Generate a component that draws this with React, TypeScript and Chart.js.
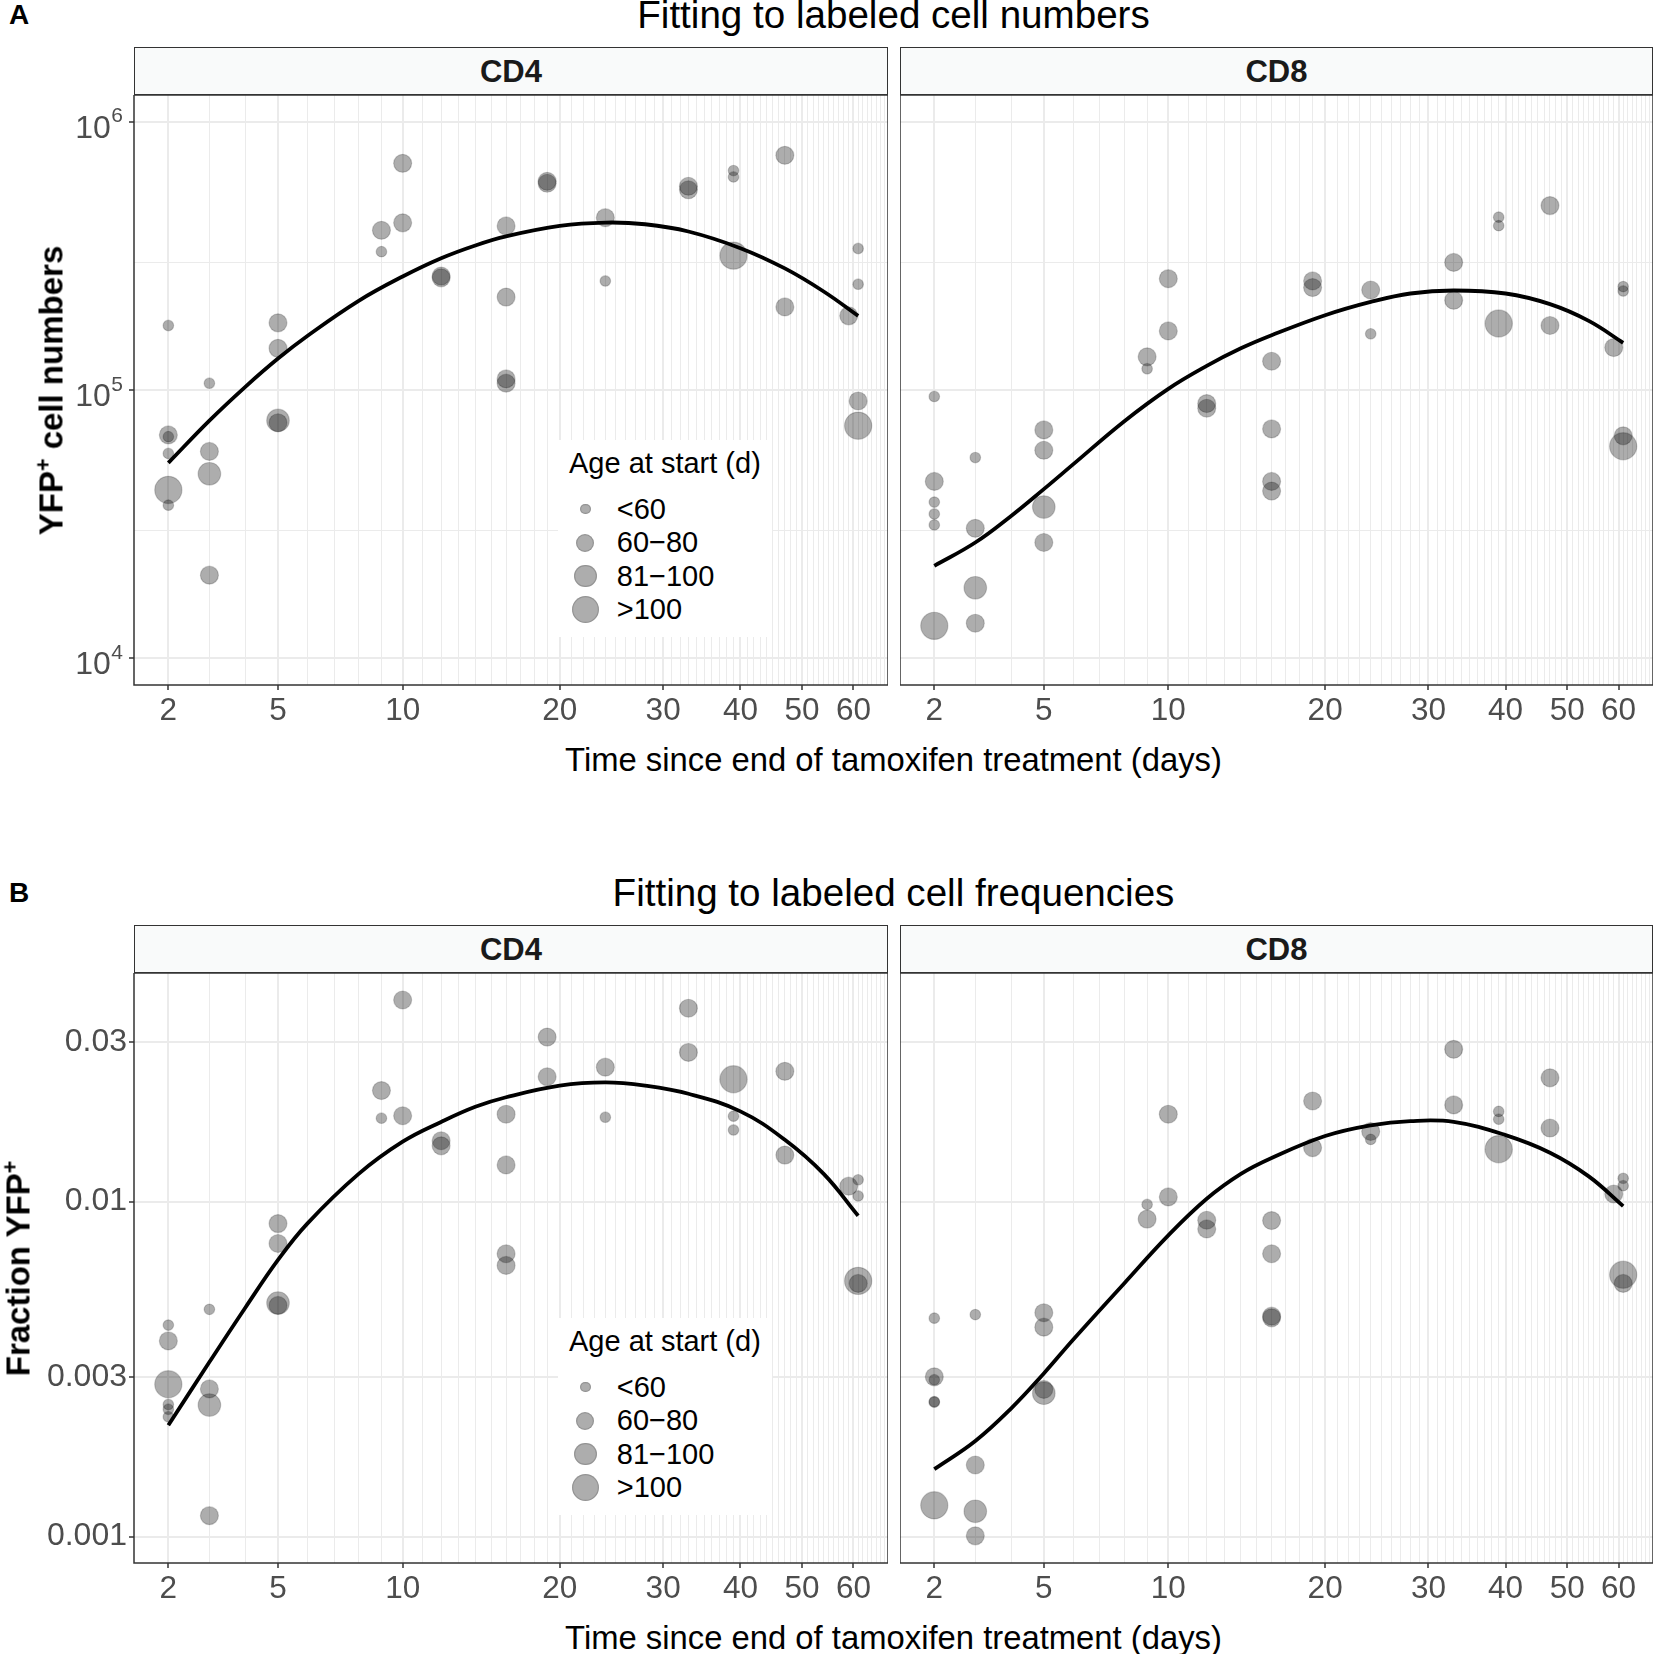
import React, { useEffect, useRef } from 'react';
import { Chart, registerables, LinearScale } from 'chart.js';

// x axis of the figure is log10(day + 5)
const SHIFT = 5;
const fwd = (v: number) => Math.log10(v + SHIFT);
const inv = (u: number) => Math.pow(10, u) - SHIFT;

class ShiftedLogScale extends LinearScale {
  static id = 'shiftedLog';
  static defaults = LinearScale.defaults;
  getPixelForValue(value: number) {
    const a = fwd(this.min);
    const b = fwd(this.max);
    return this.getPixelForDecimal((fwd(value) - a) / (b - a));
  }
  getValueForPixel(pixel: number) {
    const a = fwd(this.min);
    const b = fwd(this.max);
    return inv(a + this.getDecimalForPixel(pixel) * (b - a));
  }
}

Chart.register(...registerables, ShiftedLogScale);

// ---- data ----
const AGE_GROUPS = ['<60', '60\u221280', '81\u2212100', '>100'];

const DAYS = [2, 2, 2, 2, 2, 2, 3, 3, 3, 3, 5, 5, 5, 5, 9, 9, 10, 10, 12, 12, 16, 16, 16, 16, 19, 19, 24, 24, 33, 33, 39, 39, 39, 47, 47, 59, 61, 61, 61, 61];

const cd4Cells = [174000, 68000, 67000, 58000, 42400, 37200, 106000, 59000, 48700, 20400, 178000, 143000, 77000, 75500, 394000, 328000, 700000, 420000, 266000, 262000, 409000, 222000, 110000, 106000, 600000, 590000, 439000, 255000, 575000, 558000, 658000, 623000, 317000, 750000, 204000, 189000, 337000, 248000, 91000, 73600];
const cd4CellsAge = [0, 1, 0, 0, 3, 0, 0, 1, 2, 1, 1, 1, 2, 1, 1, 0, 1, 1, 1, 1, 1, 1, 1, 1, 1, 1, 1, 0, 1, 1, 0, 0, 3, 1, 1, 1, 0, 0, 1, 3];

const cd8Cells = [94600, 45600, 38200, 34500, 31400, 13200, 56000, 30500, 18300, 13500, 71000, 59600, 36600, 27000, 133000, 120000, 260000, 166000, 89000, 85500, 128000, 71600, 45600, 42000, 255000, 241000, 236000, 162000, 299000, 216000, 441000, 410000, 177000, 487000, 174000, 144000, 243000, 234000, 67500, 61700];
const cd8CellsAge = [0, 1, 0, 0, 0, 3, 0, 1, 2, 1, 1, 1, 2, 1, 1, 0, 1, 1, 1, 1, 1, 1, 1, 1, 1, 1, 1, 0, 1, 1, 0, 0, 3, 1, 1, 1, 0, 0, 1, 3];

const cd4Freq = [0.00428, 0.00384, 0.00285, 0.00248, 0.0024, 0.00228, 0.00477, 0.00276, 0.00247, 0.001155, 0.0086, 0.0075, 0.00498, 0.0049, 0.02146, 0.01775, 0.04, 0.01805, 0.0152, 0.01468, 0.01824, 0.01287, 0.00699, 0.00645, 0.031, 0.0236, 0.0252, 0.01787, 0.0378, 0.0279, 0.0232, 0.018, 0.01637, 0.0245, 0.01377, 0.01112, 0.01162, 0.0104, 0.0058, 0.0057];
const cd4FreqAge = [0, 1, 3, 0, 0, 0, 0, 1, 2, 1, 1, 1, 2, 1, 1, 0, 1, 1, 1, 1, 1, 1, 1, 1, 1, 1, 1, 0, 1, 1, 3, 0, 0, 1, 1, 1, 0, 0, 3, 1];

const cd8Freq = [0.00449, 0.003, 0.00294, 0.00253, 0.00252, 0.00124, 0.0046, 0.001636, 0.00119, 0.001005, 0.00466, 0.00422, 0.00275, 0.00268, 0.00981, 0.00887, 0.01824, 0.01033, 0.0088, 0.00829, 0.00878, 0.00699, 0.00455, 0.0045, 0.01998, 0.01449, 0.0162, 0.01534, 0.0285, 0.01945, 0.0186, 0.01763, 0.01434, 0.02343, 0.01659, 0.01054, 0.01174, 0.01116, 0.00605, 0.0057];
const cd8FreqAge = [0, 1, 0, 0, 0, 3, 0, 1, 2, 1, 1, 1, 1, 2, 0, 1, 1, 1, 1, 1, 1, 1, 1, 1, 1, 1, 1, 0, 1, 1, 0, 0, 3, 1, 1, 1, 0, 0, 3, 1];

// fitted curves
const FIT_DAYS = [2, 3, 4, 5, 6, 8, 10, 12, 14, 16, 20, 24, 28, 33, 40, 47, 54, 61];
const cd4CellsFit = [53500, 76900, 103000, 131000, 159000, 215000, 265000, 310000, 346000, 374000, 409000, 421000, 415000, 390000, 338000, 284000, 233000, 189000];
const cd8CellsFit = [22100, 27000, 34000, 42700, 52800, 76500, 101000, 123000, 143000, 160000, 190000, 213000, 229000, 235000, 229000, 209000, 181000, 150000];
const cd4FreqFit = [0.00215, 0.00332, 0.00484, 0.0067, 0.0086, 0.0121, 0.0151, 0.0173, 0.0192, 0.0205, 0.0222, 0.0227, 0.0222, 0.021, 0.0186, 0.0153, 0.0121, 0.00908];
const cd8FreqFit = [0.00159, 0.00193, 0.00242, 0.00307, 0.00387, 0.00571, 0.00793, 0.0102, 0.0121, 0.0135, 0.0157, 0.0169, 0.0174, 0.0173, 0.0158, 0.014, 0.0119, 0.0097];

// axes
const X_LABELED = [2, 5, 10, 20, 30, 40, 50, 60];
const X_MIN = 1.26;
const X_MAX = 67.73;
const X_GRID = Array.from({ length: 66 }, (_, i) => i + 2);

const CELLS_TICKS = [1e4, 3e4, 1e5, 3e5, 1e6];
const CELLS_EXP = ['4', '', '5', '', '6'];
const CELLS_MIN = Math.pow(10, 3.9);
const CELLS_MAX = Math.pow(10, 6.1);

const FREQ_TICKS = [0.001, 0.003, 0.01, 0.03];
const FREQ_LABELS = ['0.001', '0.003', '0.01', '0.03'];
const FREQ_MIN = 0.000834;
const FREQ_MAX = 0.04816;

// ---- layout ----
const FONT = '"Liberation Sans", Arial, Helvetica, sans-serif';
const RADII = [5.3, 9, 11.3, 13.6];
const PT_FILL = 'rgba(0,0,0,0.32)';
const PT_EDGE = 'rgba(0,0,0,0.18)';
const GRID = '#EBEBEB';
const TICK_TEXT = '#4D4D4D';
const AXIS_H = 50;
const PLOT_H = 590;
const STRIP_H = 48;
const A_TOP = 95;
const B_TOP = 973;
const CD4_LEFT = 134;
const CD4_W = 754;
const CD8_LEFT = 900;
const CD8_W = 753;

const panelBorder = {
  id: 'panelBorder',
  afterDraw(chart: any) {
    const { ctx, chartArea: a } = chart;
    ctx.save();
    ctx.strokeStyle = '#333333';
    ctx.lineWidth = 1.5;
    ctx.strokeRect(a.left, a.top, a.right - a.left, a.bottom - a.top);
    ctx.restore();
  }
};

// 10^n tick labels with a raised exponent
const powerLabels = {
  id: 'powerLabels',
  afterDraw(chart: any, _args: any, opts: any) {
    if (!opts || !opts.exps) return;
    const { ctx, chartArea } = chart;
    const y = chart.scales.y;
    ctx.save();
    ctx.fillStyle = TICK_TEXT;
    ctx.textAlign = 'right';
    ctx.textBaseline = 'alphabetic';
    opts.values.forEach((v: number, i: number) => {
      const exp = opts.exps[i];
      if (!exp) return;
      const py = y.getPixelForValue(v);
      const xr = chartArea.left - 11;
      ctx.font = `21px ${FONT}`;
      const we = ctx.measureText(exp).width;
      ctx.fillText(exp, xr, py + 0.5);
      ctx.font = `32px ${FONT}`;
      ctx.fillText('10', xr - we - 0.5, py + 16);
    });
    ctx.restore();
  }
};

interface PanelProps {
  left: number;
  top: number;
  width: number;
  axisW: number;
  values: number[];
  ages: number[];
  fit: number[];
  yMin: number;
  yMax: number;
  yTicks: number[];
  yLabels?: string[];
  yExps?: string[];
}

function Panel(p: PanelProps) {
  const ref = useRef<HTMLCanvasElement>(null);
  const cw = p.axisW + p.width;
  const ch = PLOT_H + AXIS_H;

  useEffect(() => {
    if (!ref.current) return;
    const showY = p.axisW > 0;
    const isMajorY = (i: number) => !!((p.yLabels && p.yLabels[i]) || (p.yExps && p.yExps[i]));
    const chart = new Chart(ref.current, {
      type: 'scatter',
      data: {
        datasets: [
          {
            type: 'line',
            data: FIT_DAYS.map((d, i) => ({ x: d, y: p.fit[i] })),
            borderColor: '#000000',
            borderWidth: 3.8,
            pointRadius: 0,
            tension: 0.4,
            fill: false,
            order: 0
          },
          {
            type: 'scatter',
            data: DAYS.map((d, i) => ({ x: d, y: p.values[i] })),
            pointRadius: p.ages.map((a) => RADII[a]),
            backgroundColor: PT_FILL,
            borderColor: PT_EDGE,
            borderWidth: 1.2,
            order: 1
          }
        ]
      },
      options: {
        animation: false,
        responsive: false,
        events: [],
        layout: { padding: 0, autoPadding: false },
        plugins: {
          legend: { display: false },
          tooltip: { enabled: false },
          powerLabels: showY && p.yExps ? { values: p.yTicks, exps: p.yExps } : false
        },
        scales: {
          x: {
            type: 'shiftedLog' as any,
            min: X_MIN,
            max: X_MAX,
            bounds: 'data',
            afterBuildTicks: (s: any) => {
              s.ticks = X_GRID.map((v) => ({ value: v }));
            },
            afterFit: (s: any) => {
              s.height = AXIS_H;
              s.paddingLeft = 0;
              s.paddingRight = 0;
            },
            border: { display: false },
            grid: {
              color: GRID,
              lineWidth: (c: any) => (X_LABELED.includes(c.tick?.value) ? 2 : 1),
              tickColor: (c: any) => (X_LABELED.includes(c.tick?.value) ? '#333333' : 'rgba(0,0,0,0)'),
              tickWidth: 1.5,
              tickLength: 5
            },
            ticks: {
              autoSkip: false,
              maxRotation: 0,
              minRotation: 0,
              padding: 2,
              color: TICK_TEXT,
              font: { family: FONT, size: 31.5 },
              callback: (v: any) => (X_LABELED.includes(v) ? String(v) : '')
            }
          },
          y: {
            type: 'logarithmic',
            min: p.yMin,
            max: p.yMax,
            bounds: 'data',
            afterBuildTicks: (s: any) => {
              s.ticks = p.yTicks.map((v) => ({ value: v }));
            },
            afterFit: (s: any) => {
              s.width = p.axisW;
              s.paddingTop = 0;
              s.paddingBottom = 0;
            },
            border: { display: false },
            grid: {
              color: GRID,
              lineWidth: (c: any) => (isMajorY(c.index) ? 2 : 1),
              tickColor: (c: any) => (isMajorY(c.index) ? '#333333' : 'rgba(0,0,0,0)'),
              tickWidth: 1.5,
              tickLength: 5,
              drawTicks: showY
            },
            ticks: {
              display: showY && !!p.yLabels,
              autoSkip: false,
              padding: 2,
              color: TICK_TEXT,
              font: { family: FONT, size: 32 },
              callback: (_v: any, i: number) => (p.yLabels ? p.yLabels[i] : '')
            }
          }
        }
      },
      plugins: [panelBorder, powerLabels]
    } as any);
    return () => chart.destroy();
  }, []);

  return (
    <canvas
      ref={ref}
      width={cw}
      height={ch}
      style={{ position: 'absolute', left: p.left - p.axisW, top: p.top, width: cw, height: ch }}
    />
  );
}

function Strip({ left, top, width, label }: { left: number; top: number; width: number; label: string }) {
  return (
    <div
      style={{
        position: 'absolute',
        left,
        top,
        width,
        height: STRIP_H,
        boxSizing: 'border-box',
        border: '1.5px solid #333333',
        background: '#F9FAFA'
      }}
    >
      <div
        style={{
          position: 'absolute',
          left: 0,
          right: 0,
          top: 7.9,
          textAlign: 'center',
          fontWeight: 'bold',
          fontSize: 31,
          lineHeight: 1,
          color: '#1A1A1A'
        }}
      >
        {label}
      </div>
    </div>
  );
}

function AgeLegend({ top }: { top: number }) {
  const rows = [69, 102.5, 136, 169.5];
  return (
    <div style={{ position: 'absolute', left: 558, top, width: 214, height: 197, background: '#ffffff' }}>
      <div style={{ position: 'absolute', left: 11, top: 9.2, fontSize: 29, lineHeight: 1, whiteSpace: 'nowrap' }}>
        Age at start (d)
      </div>
      {AGE_GROUPS.map((g, i) => {
        const r = RADII[i];
        return (
          <React.Fragment key={g}>
            <div
              style={{
                position: 'absolute',
                left: 27.4 - r,
                top: rows[i] - r,
                width: 2 * r,
                height: 2 * r,
                borderRadius: '50%',
                background: PT_FILL,
                boxShadow: 'inset 0 0 0 1.2px rgba(0,0,0,0.15)'
              }}
            />
            <div
              style={{
                position: 'absolute',
                left: 58.8,
                top: rows[i] - 14.1,
                fontSize: 29,
                lineHeight: 1,
                whiteSpace: 'nowrap'
              }}
            >
              {g}
            </div>
          </React.Fragment>
        );
      })}
    </div>
  );
}

function YTitle({ cx, cy, children }: { cx: number; cy: number; children: React.ReactNode }) {
  return (
    <div
      style={{
        position: 'absolute',
        left: cx - PLOT_H / 2,
        top: cy - 16.5,
        width: PLOT_H,
        height: 33,
        fontSize: 33,
        lineHeight: 1,
        fontWeight: 'bold',
        textAlign: 'center',
        whiteSpace: 'nowrap',
        transform: 'rotate(-90deg)',
        transformOrigin: 'center'
      }}
    >
      {children}
    </div>
  );
}

const sup = { fontSize: '0.65em', position: 'relative' as const, top: '-0.55em' };

function Text({ top, children, size, left = CD4_LEFT, width = 1519, bold = false }: any) {
  return (
    <div
      style={{
        position: 'absolute',
        left,
        top,
        width: width || undefined,
        fontSize: size,
        lineHeight: 1,
        fontWeight: bold ? 'bold' : 'normal',
        textAlign: width ? 'center' : 'left',
        whiteSpace: 'nowrap'
      }}
    >
      {children}
    </div>
  );
}

export default function App() {
  return (
    <div
      style={{
        position: 'absolute',
        left: 0,
        top: 0,
        width: 1654,
        height: 1654,
        background: '#ffffff',
        overflow: 'hidden',
        fontFamily: FONT,
        color: '#000000'
      }}
    >
      <Panel left={CD4_LEFT} top={A_TOP} width={CD4_W} axisW={CD4_LEFT} values={cd4Cells} ages={cd4CellsAge} fit={cd4CellsFit}
        yMin={CELLS_MIN} yMax={CELLS_MAX} yTicks={CELLS_TICKS} yExps={CELLS_EXP} />
      <Panel left={CD8_LEFT} top={A_TOP} width={CD8_W} axisW={0} values={cd8Cells} ages={cd8CellsAge} fit={cd8CellsFit}
        yMin={CELLS_MIN} yMax={CELLS_MAX} yTicks={CELLS_TICKS} yExps={CELLS_EXP} />
      <Panel left={CD4_LEFT} top={B_TOP} width={CD4_W} axisW={CD4_LEFT} values={cd4Freq} ages={cd4FreqAge} fit={cd4FreqFit}
        yMin={FREQ_MIN} yMax={FREQ_MAX} yTicks={FREQ_TICKS} yLabels={FREQ_LABELS} />
      <Panel left={CD8_LEFT} top={B_TOP} width={CD8_W} axisW={0} values={cd8Freq} ages={cd8FreqAge} fit={cd8FreqFit}
        yMin={FREQ_MIN} yMax={FREQ_MAX} yTicks={FREQ_TICKS} yLabels={FREQ_LABELS} />

      <Strip left={CD4_LEFT} top={A_TOP - STRIP_H} width={CD4_W} label="CD4" />
      <Strip left={CD8_LEFT} top={A_TOP - STRIP_H} width={CD8_W} label="CD8" />
      <Strip left={CD4_LEFT} top={B_TOP - STRIP_H} width={CD4_W} label="CD4" />
      <Strip left={CD8_LEFT} top={B_TOP - STRIP_H} width={CD8_W} label="CD8" />

      <AgeLegend top={440} />
      <AgeLegend top={1318} />

      <Text left={9} width={0} top={1.3} size={28} bold>A</Text>
      <Text left={9} width={0} top={879.3} size={28} bold>B</Text>
      <Text top={-3.6} size={38.6}>Fitting to labeled cell numbers</Text>
      <Text top={874.4} size={38.6}>Fitting to labeled cell frequencies</Text>
      <Text top={744.3} size={32.8}>Time since end of tamoxifen treatment (days)</Text>
      <Text top={1622.3} size={32.8}>Time since end of tamoxifen treatment (days)</Text>

      <YTitle cx={51.1} cy={390}>
        YFP<span style={sup}>+</span> cell numbers
      </YTitle>
      <YTitle cx={17.9} cy={1268}>
        Fraction YFP<span style={sup}>+</span>
      </YTitle>
    </div>
  );
}
